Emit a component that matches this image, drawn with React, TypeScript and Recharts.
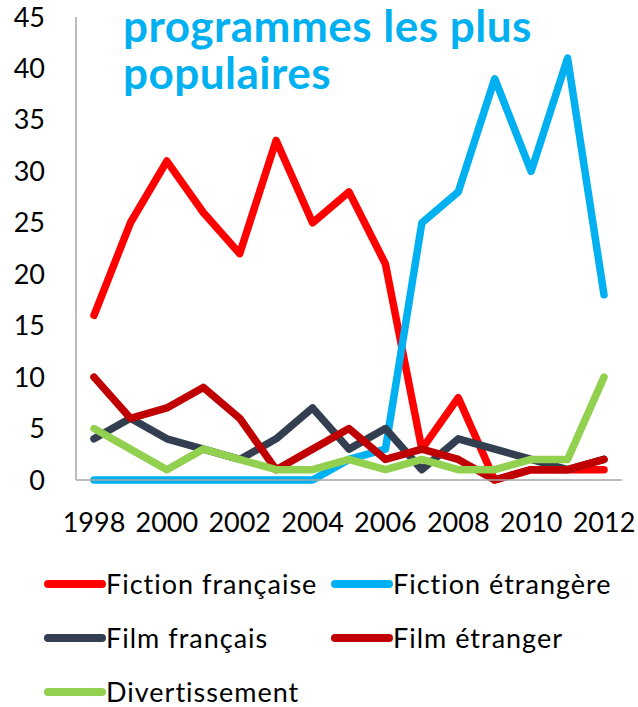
import { LineChart, Line, XAxis, YAxis } from 'recharts';

document.body.style.margin = '0';

const years = ['1998', '1999', '2000', '2001', '2002', '2003', '2004', '2005', '2006', '2007', '2008', '2009', '2010', '2011', '2012'];
const fictionFrancaise = [16, 25, 31, 26, 22, 33, 25, 28, 21, 3, 8, 0, 1, 1, 1];
const fictionEtrangere = [0, 0, 0, 0, 0, 0, 0, 2, 3, 25, 28, 39, 30, 41, 18];
const filmFrancais = [4, 6, 4, 3, 2, 4, 7, 3, 5, 1, 4, 3, 2, 1, 2];
const filmEtranger = [10, 6, 7, 9, 6, 1, 3, 5, 2, 3, 2, 0, 1, 1, 2];
const divertissement = [5, 3, 1, 3, 2, 1, 1, 2, 1, 2, 1, 1, 2, 2, 10];
const yTicks = [0, 5, 10, 15, 20, 25, 30, 35, 40, 45];

const titleLines = ['programmes les plus', 'populaires'];

const series = [
  { key: 'ff', name: 'Fiction française', color: '#FF0000', values: fictionFrancaise },
  { key: 'fe', name: 'Fiction étrangère', color: '#00B0F0', values: fictionEtrangere },
  { key: 'mf', name: 'Film français', color: '#333F50', values: filmFrancais },
  { key: 'me', name: 'Film étranger', color: '#C00000', values: filmEtranger },
  { key: 'dv', name: 'Divertissement', color: '#92D050', values: divertissement },
];

const chartData = years.map((year, i) => {
  const row: Record<string, string | number> = { year };
  series.forEach((s) => {
    row[s.key] = s.values[i];
  });
  return row;
});

const font = 'Lato, "Open Sans", sans-serif';

function LegendItem({ name, color }: { name: string; color: string }) {
  return (
    <div style={{ display: 'flex', alignItems: 'center', height: 54 }}>
      <svg width={62} height={12}>
        <line x1={4} y1={6} x2={58} y2={6} stroke={color} strokeWidth={8} strokeLinecap="round" />
      </svg>
      <span style={{ fontSize: 27, color: '#000', lineHeight: '30px', letterSpacing: 1 }}>{name}</span>
    </div>
  );
}

export default function App() {
  return (
    <div style={{ position: 'relative', width: 638, height: 707, background: '#fff', fontFamily: font }}>
      <LineChart
        width={638}
        height={707}
        data={chartData}
        margin={{ top: 17, right: 16, left: 0, bottom: 147 }}
      >
        <XAxis
          dataKey="year"
          interval={1}
          padding={{ left: 18, right: 18 }}
          height={80}
          tickLine={false}
          tickSize={6}
          tickMargin={27}
          axisLine={{ stroke: '#A6A6A6', strokeWidth: 1.5 }}
          tick={{ fill: '#000', fontSize: 27, fontFamily: font }}
        />
        <YAxis
          domain={[0, 45]}
          ticks={yTicks}
          width={76}
          tickLine={false}
          tickSize={6}
          tickMargin={25}
          axisLine={{ stroke: '#A6A6A6', strokeWidth: 1.5 }}
          tick={{ fill: '#000', fontSize: 27, fontFamily: font }}
        />
        {series.map((s) => (
          <Line
            key={s.key}
            type="linear"
            dataKey={s.key}
            name={s.name}
            stroke={s.color}
            strokeWidth={7.5}
            strokeLinecap="round"
            strokeLinejoin="round"
            dot={false}
            isAnimationActive={false}
          />
        ))}
      </LineChart>

      {titleLines.map((t, i) => (
        <div
          key={t}
          style={{
            position: 'absolute',
            left: 123,
            top: 6 + i * 47,
            color: '#00B0F0',
            fontWeight: 700,
            fontSize: 44,
            letterSpacing: 0.5,
            lineHeight: '38px',
            whiteSpace: 'nowrap',
          }}
        >
          {t}
        </div>
      ))}

      <div
        style={{
          position: 'absolute',
          left: 44,
          top: 557,
          display: 'grid',
          gridTemplateColumns: '287px auto',
        }}
      >
        {series.map((s) => (
          <LegendItem key={s.key} name={s.name} color={s.color} />
        ))}
      </div>
    </div>
  );
}
